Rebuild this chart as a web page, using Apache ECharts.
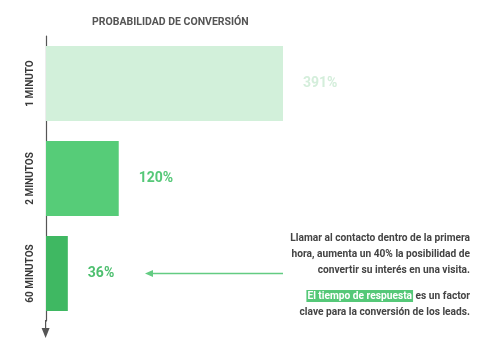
<!DOCTYPE html>
<html><head><meta charset="utf-8">
<script src="https://cdn.jsdelivr.net/npm/echarts@6/dist/echarts.min.js"></script>
<style>html,body{margin:0;padding:0;background:#fff}#c{width:493px;height:346px}</style>
</head><body><div id="c"></div>
<script>
const categories = ['1 MINUTO', '2 MINUTOS', '60 MINUTOS'];
const values = [391, 120, 36];
const barColors = ['#d2f0da', '#56cc78', '#3fb862'];
const labelColors = ['#d4eedb', '#55c878', '#4dbf6f'];
const title = 'PROBABILIDAD DE CONVERSIÓN';
const noteLines1 = ['Llamar al contacto dentro de la primera', 'hora, aumenta un 40% la posibilidad de', 'convertir su interés en una visita.'];
const noteHighlight = 'El tiempo de respuesta';
const noteLines2 = [' es un factor', 'clave para la conversión de los leads.'];

const chart = echarts.init(document.getElementById('c'), null, {renderer: 'canvas'});
const font = 'Roboto';
chart.setOption({
  animation: false,
  title: {
    text: title, left: 87, top: 12,
    textStyle: {fontFamily: font, fontSize: 10.5, fontWeight: 'bold', color: '#555'}
  },
  grid: {left: 46, top: 36, width: 237, height: 285},
  xAxis: {type: 'value', min: 0, max: 391, show: false},
  yAxis: {
    type: 'category', data: categories, inverse: true,
    axisLine: {show: true, lineStyle: {color: '#555', width: 1.2}},
    axisTick: {show: false},
    axisLabel: {rotate: 90, margin: 11, fontFamily: font, fontSize: 10, fontWeight: 'bold', color: '#3a3a3a'}
  },
  series: [{
    type: 'bar', barWidth: 75,
    data: values.map((v, i) => ({
      value: v,
      itemStyle: {color: barColors[i]},
      label: {color: labelColors[i]}
    })),
    label: {
      show: true, position: 'right', distance: 20,
      formatter: p => p.value + '%',
      fontFamily: font, fontSize: 14, fontWeight: 'bold'
    }
  }],
  graphic: [
    {type: 'line', shape: {x1: 45.6, y1: 320, x2: 45.6, y2: 333}, style: {stroke: '#555', lineWidth: 1.2}},
    {type: 'polygon', shape: {points: [[41.6, 328], [49.6, 328], [45.6, 338]]}, style: {fill: '#555'}},
    {type: 'line', shape: {x1: 150, y1: 273.5, x2: 283, y2: 273.5}, style: {stroke: '#63cc82', lineWidth: 1.3}},
    {type: 'polygon', shape: {points: [[145, 273.5], [153, 270], [153, 277]]}, style: {fill: '#63cc82'}},
    {
      type: 'text', x: 470, y: 230,
      style: {
        text: noteLines1.join('\n'),
        font: 'bold 10.2px Roboto', fill: '#444', align: 'right', verticalAlign: 'top', lineHeight: 16
      }
    },
    {
      type: 'text', x: 470, y: 288,
      style: {
        text: '{hl|' + noteHighlight + '}' + noteLines2[0] + '\n' + noteLines2[1],
        font: 'bold 10.2px Roboto', fill: '#444', align: 'right', verticalAlign: 'top', lineHeight: 16,
        rich: {
          hl: {backgroundColor: '#55c878', fill: '#ffffff', font: 'bold 10.2px Roboto', padding: [1, 1, 1, 1]}
        }
      }
    }
  ]
});
</script></body></html>
